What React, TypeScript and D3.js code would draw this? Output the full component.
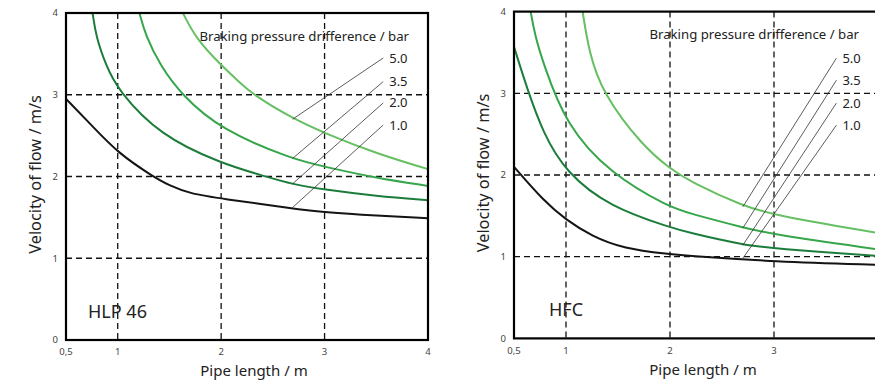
import React from 'react';
import * as d3 from 'd3';

// ---------- data ----------
const pressureLabels = ['5.0', '3.5', '2.0', '1.0'];
const xTickValues = [0.5, 1, 2, 3, 4];
const xTickLabels = ['0,5', '1', '2', '3', '4'];
const yTickValues = [0, 1, 2, 3, 4];
const yTickLabels = ['0', '1', '2', '3', '4'];
const gridX = [1, 2, 3];
const gridY = [1, 2, 3];

// HLP 46 panel
const hlp10X = [0.5, 0.76, 1, 1.34, 1.5, 1.7, 2, 2.69, 3, 3.5, 4];
const hlp10Y = [2.95, 2.61, 2.29, 2.0, 1.89, 1.79, 1.73, 1.61, 1.56, 1.52, 1.49];
const hlp20X = [0.757, 0.79, 0.89, 1, 1.41, 2, 2.43, 2.69, 3, 3.5, 4];
const hlp20Y = [4, 3.71, 3.35, 3.06, 2.5, 2.16, 2.0, 1.905, 1.84, 1.76, 1.71];
const hlp35X = [1.21, 1.27, 1.41, 1.615, 2, 2.69, 3, 3.5, 4];
const hlp35Y = [4, 3.72, 3.36, 3.0, 2.57, 2.21, 2.12, 1.98, 1.885];
const hlp50X = [1.63, 1.76, 2, 2.18, 2.31, 2.69, 3, 3.5, 4];
const hlp50Y = [4, 3.68, 3.36, 3.15, 3.0, 2.71, 2.53, 2.28, 2.09];
const hlpLeaderTopX = 3.567;
const hlpLeaderTopY = [3.45, 3.16, 2.9, 2.63];
const hlpLeaderEndX = 2.69;
const hlpLeaderEndY = [2.7, 2.22, 1.91, 1.62];

// HFC panel
const hfc10X = [0.5, 0.78, 1, 1.25, 1.55, 2, 2.17, 3, 4];
const hfc10Y = [2.1, 1.69, 1.45, 1.25, 1.1, 1.03, 1.01, 0.94, 0.9];
const hfc20X = [0.5, 0.62, 0.78, 1, 1.42, 2, 2.19, 2.72, 3, 4];
const hfc20Y = [3.57, 3.08, 2.51, 2.03, 1.61, 1.36, 1.29, 1.14, 1.1, 1.01];
const hfc35X = [0.66, 0.7, 0.78, 1, 1.42, 2, 2.19, 2.72, 3, 4];
const hfc35Y = [4, 3.72, 3.37, 2.61, 2.02, 1.6, 1.53, 1.35, 1.27, 1.09];
const hfc50X = [1.16, 1.22, 1.35, 1.74, 2, 2.19, 2.72, 3, 4];
const hfc50Y = [4, 3.51, 3.0, 2.35, 2.08, 1.92, 1.61, 1.51, 1.29];
const hfcLeaderTopX = 3.6;
const hfcLeaderTopY = [3.43, 3.16, 2.88, 2.61];
const hfcLeaderEndX = 2.7;
const hfcLeaderEndY = [1.61, 1.35, 1.14, 0.98];

const legendTitle = 'Braking pressure drifference / bar';
const xTitle = 'Pipe length / m';
const yTitle = 'Velocity of flow / m/s';

// ---------- styling ----------
const FONT = '"Noto Sans", "Open Sans", sans-serif';
const curveColors = ['#66c062', '#36a64b', '#1c7d3b', '#141414']; // 5.0, 3.5, 2.0, 1.0

type PanelProps = {
  left: number;
  top: number;
  width: number;
  height: number;
  curvesX: number[][];
  curvesY: number[][];
  leaderTopX: number;
  leaderTopY: number[];
  leaderEndX: number;
  leaderEndY: number[];
  fluid: string;
  fluidX: number;
  fluidY: number;
};

function Panel(p: PanelProps) {
  const x = d3.scaleLinear().domain([0.5, 4]).range([p.left, p.left + p.width]);
  const y = d3.scaleLinear().domain([0, 4]).range([p.top + p.height, p.top]);
  const line = d3
    .line<[number, number]>()
    .x((d) => x(d[0]))
    .y((d) => y(d[1]))
    .curve(d3.curveBasis);
  const bottom = p.top + p.height;
  const right = p.left + p.width;
  const cx = (p.left + right) / 2 + 7;
  return (
    <g>
      {gridX.map((v) => (
        <line
          key={'gx' + v}
          x1={x(v)}
          x2={x(v)}
          y1={p.top}
          y2={bottom}
          stroke="#111"
          strokeWidth={1.3}
          strokeDasharray="6,4"
        />
      ))}
      {gridY.map((v) => (
        <line
          key={'gy' + v}
          x1={p.left}
          x2={right}
          y1={y(v)}
          y2={y(v)}
          stroke="#111"
          strokeWidth={1.3}
          strokeDasharray="6,4"
        />
      ))}
      <g>
        {p.curvesX.map((xs, i) => {
          const pts = xs.map((v, j) => [v, p.curvesY[i][j]] as [number, number]);
          return (
            <path
              key={'c' + i}
              d={line(pts) || ''}
              fill="none"
              stroke={curveColors[i]}
              strokeWidth={2}
            />
          );
        })}
      </g>
      {pressureLabels.map((lab, i) => (
        <g key={'l' + lab}>
          <line
            x1={x(p.leaderTopX)}
            y1={y(p.leaderTopY[i])}
            x2={x(p.leaderEndX)}
            y2={y(p.leaderEndY[i])}
            stroke="#333"
            strokeWidth={0.8}
          />
          <text
            x={x(p.leaderTopX) + 6}
            y={y(p.leaderTopY[i])}
            dy="0.35em"
            fontFamily={FONT}
            fontSize={13}
            fill="#222"
          >
            {lab}
          </text>
        </g>
      ))}
      <text
        x={right - 19}
        y={p.top + 23}
        dy="0.35em"
        textAnchor="end"
        fontFamily={FONT}
        fontSize={13.2}
        fill="#222"
      >
        {legendTitle}
      </text>
      <rect
        x={p.left}
        y={p.top}
        width={p.width}
        height={p.height}
        fill="none"
        stroke="#000"
        strokeWidth={2.2}
      />
      {xTickValues.map((v, i) => (
        <text
          key={'xt' + v}
          x={x(v)}
          y={bottom + 12}
          dy="0.35em"
          textAnchor="middle"
          fontFamily={FONT}
          fontSize={9.5}
          fill="#444"
        >
          {xTickLabels[i]}
        </text>
      ))}
      {yTickValues.map((v, i) => (
        <text
          key={'yt' + v}
          x={p.left - 8}
          y={y(v)}
          dy="0.35em"
          textAnchor="end"
          fontFamily={FONT}
          fontSize={9.5}
          fill="#444"
        >
          {yTickLabels[i]}
        </text>
      ))}
      <text
        x={cx}
        y={bottom + 31}
        dy="0.35em"
        textAnchor="middle"
        fontFamily={FONT}
        fontSize={15}
        fill="#222"
      >
        {xTitle}
      </text>
      <text
        transform={`translate(${p.left - 31},${(p.top + bottom) / 2 - 2}) rotate(-90)`}
        dy="0.35em"
        textAnchor="middle"
        fontFamily={FONT}
        fontSize={16.3}
        fill="#222"
      >
        {yTitle}
      </text>
      <text
        x={p.fluidX}
        y={p.fluidY}
        dy="0.35em"
        fontFamily={FONT}
        fontSize={18}
        fill="#222"
      >
        {p.fluid}
      </text>
    </g>
  );
}

export default function App() {
  return (
    <svg
      width={875}
      height={380}
      style={{ position: 'absolute', left: 0, top: 0, background: '#fff' }}
    >
      <Panel
        left={66}
        top={13}
        width={362}
        height={327}
        curvesX={[hlp50X, hlp35X, hlp20X, hlp10X]}
        curvesY={[hlp50Y, hlp35Y, hlp20Y, hlp10Y]}
        leaderTopX={hlpLeaderTopX}
        leaderTopY={hlpLeaderTopY}
        leaderEndX={hlpLeaderEndX}
        leaderEndY={hlpLeaderEndY}
        fluid="HLP 46"
        fluidX={88}
        fluidY={312}
      />
      <Panel
        left={514}
        top={11.6}
        width={364}
        height={326.8}
        curvesX={[hfc50X, hfc35X, hfc20X, hfc10X]}
        curvesY={[hfc50Y, hfc35Y, hfc20Y, hfc10Y]}
        leaderTopX={hfcLeaderTopX}
        leaderTopY={hfcLeaderTopY}
        leaderEndX={hfcLeaderEndX}
        leaderEndY={hfcLeaderEndY}
        fluid="HFC"
        fluidX={549}
        fluidY={310}
      />
    </svg>
  );
}
